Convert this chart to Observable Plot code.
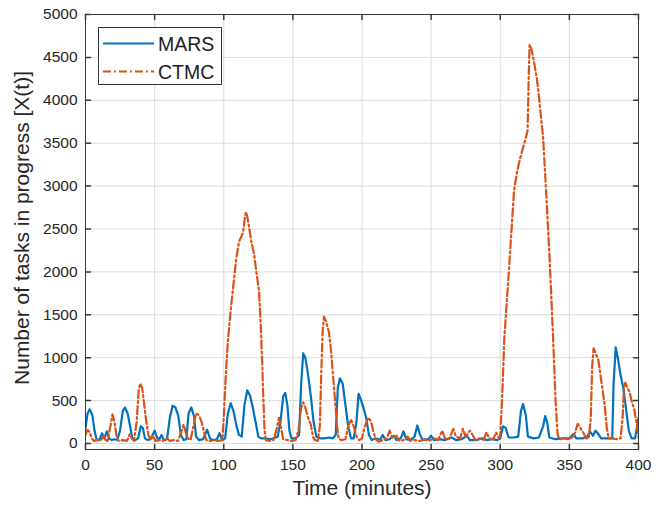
<!DOCTYPE html>
<html><head><meta charset="utf-8">
<script src="https://cdn.jsdelivr.net/npm/d3@7"></script>
<script src="https://cdn.jsdelivr.net/npm/@observablehq/plot@0.6"></script>
<style>
body{margin:0;background:#fff;}
#wrap{position:relative;width:664px;height:510px;}
#legend{position:absolute;left:98px;top:27px;width:122px;height:56px;border:1px solid #333;background:#fff;font-family:"Liberation Sans",Arial,sans-serif;font-size:19.5px;color:#222;}
.row{position:absolute;left:0;height:24px;width:122px;}
.row svg{position:absolute;left:4px;top:0;}
.row span{position:absolute;left:59px;top:1px;line-height:22px;}
</style></head>
<body><div id="wrap"><div id="chart"></div>
<div id="legend">
<div class="row" style="top:4px"><svg width="52" height="24"><line x1="0" y1="11.5" x2="51" y2="11.5" stroke="#0072BD" stroke-width="2.2"/></svg><span>MARS</span></div>
<div class="row" style="top:32px"><svg width="52" height="24"><line x1="0" y1="11.5" x2="51" y2="11.5" stroke="#D95319" stroke-width="2.2" stroke-dasharray="8,3,2,3"/></svg><span>CTMC</span></div>
</div></div>
<script>
const xTicks = [0,50,100,150,200,250,300,350,400];
const yTicks = [0,500,1000,1500,2000,2500,3000,3500,4000,4500,5000];

const marsT = [0,1.5,3,5,6.5,8,10,12,13.5,15.5,17,19,21,23,25,27,28.5,30.5,32.5,34,36,38,40,41.5,43,45,47,50,51.5,53,55,56.5,59,61,63,65,67,69,71,73,74.5,76.5,78.5,80,82,85,88,90,92,95,97,99,101,103,105,107,109,111,113,115,117,119,121,123,125,127,130,133,136,139,141,143,144.5,146,147.5,149,152,154.5,156,157.5,159,161,163,165,167,170,173,176,179,181,182.5,184,186,188,190,192,194,196,197.5,199,201,203,205,207,210,213,215,217,220,223,225,228,230,232,235,238,240,242,244,248,250,252,256,260,265,268,272,276,278,283,287,290,294,298,300,302,304,306,310,313,315,316.5,318.5,320,324,328,331,332.5,334,335.5,340,345,350,353,355,360,363,365,367,369,371,373,377,381,382,383.5,385,387,389,391,393,395,397.5,399,400];
const marsV = [180,350,400,330,150,50,40,120,60,140,60,40,50,40,150,380,420,350,180,50,40,60,200,180,60,40,50,150,80,40,100,40,50,300,440,420,330,100,40,50,350,420,320,80,40,50,160,60,40,50,120,40,60,350,470,380,220,100,80,450,620,560,420,250,80,60,60,50,60,80,250,550,590,450,150,60,60,100,700,1050,1000,800,550,250,80,60,60,70,60,100,650,760,700,450,200,60,60,250,580,520,420,300,100,40,60,40,100,40,50,90,40,60,140,50,40,80,210,100,40,50,90,40,50,40,70,40,50,90,40,40,60,40,50,40,60,200,180,70,70,80,380,460,330,80,60,70,200,320,240,70,50,60,60,110,60,60,80,140,90,150,110,60,60,60,700,1120,1000,800,650,400,150,60,60,200,300];

const ctmcT = [0,1.5,3,4.5,6,9,11,13,14.5,16,18,19.5,21,22.5,24,27,30,32,33.5,35,37,38.5,39.5,41,42.5,44,45.5,47,49,50.5,53,56,59,61,64,67,69,71,72.5,74,76,78,80,82,84,86,87.5,90,93,96,99,100,101.5,103,105,107,109,111,114,115,116,117,118.5,120,122,124,125.5,127,128.5,129.5,130.5,133,136,138,140,141.5,143,146,149,152,154,156,157.5,159,161,163,164.5,166,168,169.5,170.5,171.5,172.5,174,176,177.5,179,180.5,182,183,185,188,190,192,194,196,198,200,202,204.5,206.5,208,210,212,215,218,220,222,225,227,230,233,235,238,242,245,248,252,255,258,260,263,266,268,271,273,275,278,280,282,285,288,290,292,295,297,299,300,301,302,303,304.5,306,308,310,312,314,316,318.5,319.8,320.5,321.2,322.5,324.5,326.5,328,329.5,331,333,335.5,338,340,341.5,343,346,349,352,354,356,358,360,362,364,365.5,366.5,367.5,369,371,373,375.5,377,378.5,381,384,387,388.5,389.5,390.5,392,393.5,395,397,398.5,400];
const ctmcV = [100,160,130,60,30,40,30,90,40,30,200,340,250,80,30,40,30,110,60,30,250,620,700,650,450,250,100,40,90,30,40,30,60,30,40,30,120,220,130,60,40,200,350,330,250,120,40,30,40,30,40,300,800,1200,1550,1850,2150,2350,2460,2600,2700,2650,2500,2350,2200,1950,1780,1300,600,150,40,30,40,150,300,180,50,40,30,40,150,420,480,420,300,220,80,40,30,200,800,1300,1480,1420,1300,1100,800,500,200,60,40,50,200,280,200,80,40,60,200,300,260,150,50,20,40,60,150,60,90,30,40,80,30,40,30,50,30,60,40,150,60,50,170,80,60,170,80,150,100,40,60,40,130,60,50,130,60,100,400,800,1240,1600,1950,2450,2950,3150,3300,3420,3560,3650,4200,4650,4600,4440,4250,4040,3800,3570,2990,2220,1320,500,100,50,60,50,70,120,230,180,130,60,60,300,900,1110,1050,970,740,460,190,60,60,50,60,300,650,710,650,600,500,390,250,70];

const mars = marsT.map((t,i)=>({t, v: marsV[i]}));
const ctmc = ctmcT.map((t,i)=>({t, v: ctmcV[i]}));

const tickShape = {draw(ctx, l){ ctx.moveTo(0,0); ctx.lineTo(0,-l); }};
const axisColor = "#3a3a3a";

const chart = Plot.plot({
  width: 664, height: 510,
  marginLeft: 85, marginRight: 26, marginTop: 14, marginBottom: 61,
  style: {fontFamily: '"Liberation Sans", Arial, sans-serif', background: "#fff", color: "#262626"},
  x: {domain: [0,400], ticks: xTicks},
  y: {domain: [-70,5000], ticks: yTicks},
  marks: [
    Plot.gridX(xTicks, {stroke: "#dcdcdc", strokeOpacity: 1}),
    Plot.gridY(yTicks, {stroke: "#dcdcdc", strokeOpacity: 1}),
    Plot.line(mars, {x: "t", y: "v", stroke: "#0072BD", strokeWidth: 2.2, clip: true}),
    Plot.line(ctmc, {x: "t", y: "v", stroke: "#D95319", strokeWidth: 2.2, strokeDasharray: "8,3,2,3", clip: true}),
    Plot.frame({stroke: axisColor, strokeWidth: 1}),
    Plot.vector(xTicks, {x: d=>d, frameAnchor: "bottom", length: 5, rotate: 0, anchor: "start", shape: tickShape, stroke: axisColor}),
    Plot.vector(xTicks, {x: d=>d, frameAnchor: "top", length: 5, rotate: 180, anchor: "start", shape: tickShape, stroke: axisColor}),
    Plot.vector(yTicks, {y: d=>d, frameAnchor: "left", length: 5, rotate: 90, anchor: "start", shape: tickShape, stroke: axisColor}),
    Plot.vector(yTicks, {y: d=>d, frameAnchor: "right", length: 5, rotate: -90, anchor: "start", shape: tickShape, stroke: axisColor}),
    Plot.axisX(xTicks, {tickSize: 0, tickPadding: 9, fontSize: 15.5, label: null, tickFormat: d=>String(d), fill: "#262626"}),
    Plot.axisY(yTicks, {tickSize: 0, tickPadding: 8, fontSize: 15.5, label: null, tickFormat: d=>String(d), fill: "#262626"}),
    Plot.text(["Time (minutes)"], {frameAnchor: "bottom", dy: 45, fontSize: 21, fill: "#262626"}),
    Plot.text(["Number of tasks in progress [X(t)]"], {frameAnchor: "left", textAnchor: "middle", rotate: -90, dx: -63, dy: -4, fontSize: 21, fill: "#262626"})
  ]
});
document.getElementById("chart").appendChild(chart);
</script>
</body></html>
